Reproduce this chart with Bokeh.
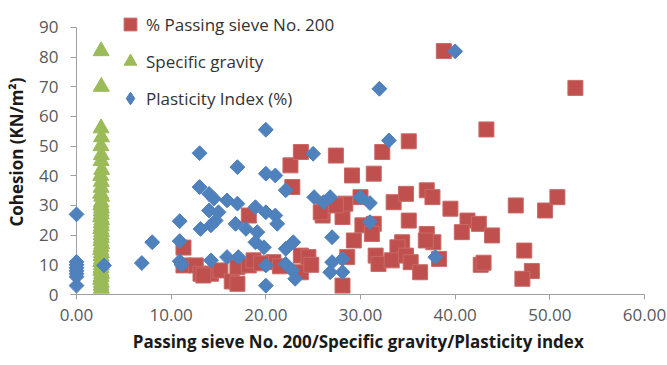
from bokeh.plotting import figure
from bokeh.models import (FixedTicker, NumeralTickFormatter, Legend, LegendItem,
                          Range1d)
from bokeh.embed import file_html
from bokeh.resources import INLINE
import numpy as np

# ---- data ----
passing_x = [11.3, 11.3, 12.6, 13.1, 14.2, 15.2, 16.4, 17.0, 17.0, 18.2, 18.7, 18.2,
             20.8, 21.5, 22.6, 23.7, 22.8, 23.7, 24.5, 23.7, 24.8, 26.0, 26.1, 27.4,
             29.1, 31.4, 32.3, 35.1, 38.8, 43.3, 52.7, 28.1, 28.4, 27.4, 30.0, 30.2,
             31.4, 29.3, 31.2, 33.5, 34.8, 37.0, 37.6, 39.5, 35.1, 41.3, 37.0, 37.7,
             34.4, 33.9, 31.6, 31.9, 33.3, 34.8, 35.3, 36.3, 38.3, 36.9, 28.6, 28.1,
             42.5, 40.7, 43.9, 42.7, 43.0, 46.4, 49.5, 50.8, 47.3, 48.1, 47.1, 25.8,
             13.4, 19.5]
passing_y = [15.8, 9.8, 9.8, 7.0, 7.0, 8.1, 4.4, 9.2, 3.6, 9.8, 11.5, 26.6,
             10.9, 9.5, 43.5, 48.0, 36.2, 13.1, 12.6, 7.5, 10.0, 26.6, 30.0, 46.8,
             40.1, 40.7, 48.0, 51.6, 82.0, 55.6, 69.6, 26.1, 30.6, 30.0, 32.8, 23.3,
             23.8, 18.2, 20.4, 31.1, 33.9, 35.1, 32.8, 28.9, 24.9, 24.9, 20.4, 17.6,
             17.6, 15.9, 13.1, 10.3, 11.5, 13.1, 10.9, 7.5, 12.0, 18.2, 12.6, 3.0,
             23.8, 21.0, 19.9, 10.0, 10.7, 30.0, 28.3, 32.8, 14.8, 7.9, 5.3, 27.7,
             6.4, 10.5]

sg_x = [2.60, 2.62, 2.60, 2.64, 2.58, 2.62, 2.60, 2.66, 2.56, 2.62, 2.60, 2.55,
        2.66, 2.60, 2.57, 2.64, 2.60, 2.62, 2.55, 2.66, 2.60, 2.63, 2.56, 2.64,
        2.60, 2.62, 2.57, 2.66, 2.60, 2.55, 2.63, 2.60, 2.65, 2.56, 2.62, 2.60,
        2.57, 2.65, 2.60, 2.55, 2.62, 2.60, 2.63]
sg_y = [82, 70, 56, 53, 50, 47, 45, 42, 40, 38, 36, 34, 33, 31, 30, 29, 28, 27,
        26, 25, 24, 23, 22, 21, 20, 19, 18, 17, 16, 15, 14, 13, 12, 11, 10, 9, 8,
        7, 6, 5, 4, 3, 2]

pi_x = [0.0, 0.0, 0.0, 0.0, 0.0, 0.0, 0.0, 0.0, 2.9, 6.9, 8.0, 10.9, 10.9, 10.9,
        11.1, 13.0, 13.0, 13.1, 14.0, 14.5, 15.9, 17.0, 14.0, 15.0, 14.7, 14.2,
        16.8, 18.9, 20.0, 21.0, 21.2, 17.9, 19.1, 18.9, 19.8, 22.9, 22.1, 14.2,
        15.9, 17.1, 20.0, 22.1, 22.8, 23.1, 20.0, 17.0, 20.0, 21.0, 22.1, 25.0,
        25.1, 26.1, 26.8, 20.0, 32.0, 33.0, 40.0, 30.0, 31.0, 31.0, 27.0, 27.0,
        28.1, 26.8, 28.1, 37.9]
pi_y = [27.0, 11.0, 10.0, 9.0, 8.0, 7.0, 6.0, 3.0, 9.8, 10.6, 17.6, 24.7, 18.0,
        11.2, 10.0, 47.6, 36.2, 22.1, 33.9, 32.3, 31.7, 30.6, 28.3, 27.7, 24.9,
        23.3, 23.8, 29.4, 27.7, 26.6, 23.8, 22.1, 21.0, 17.6, 15.9, 17.6, 15.4,
        11.5, 12.6, 12.6, 9.8, 10.3, 8.1, 5.3, 3.0, 42.9, 40.7, 40.1, 35.1, 47.4,
        32.8, 31.1, 32.8, 55.5, 69.3, 51.9, 81.9, 32.8, 30.8, 24.4, 19.3, 10.9,
        12.0, 7.5, 7.5, 12.6]

x_ticks = [0, 10, 20, 30, 40, 50, 60]
y_ticks = [0, 10, 20, 30, 40, 50, 60, 70, 80, 90]

series_names = ["% Passing sieve No. 200", "Specific gravity", "Plasticity Index (%)"]
x_title = "Passing sieve No. 200/Specific  gravity/Plasticity index"
y_title = "Cohesion (KN/m\u00b2)"

RED = "#C0504D"
GREEN = "#9BBB59"
BLUE = "#4F81BD"
FONT = "Open Sans"
AXIS_GREY = "#a0a0a0"

# y range runs a little past 90 so that the legend (drawn in the frame) is not clipped;
# the axis itself is bounded to 0..90 like the reference
p = figure(width=667, height=365, output_backend="svg", toolbar_location=None,
           x_range=Range1d(0, 60), y_range=Range1d(0, 96),
           min_border_left=76, min_border_right=23, min_border_top=9,
           min_border_bottom=71)
p.outline_line_color = None
p.xgrid.visible = False
p.ygrid.visible = False

r_red = p.scatter(x=passing_x, y=passing_y, marker="square", size=15,
                  fill_color=RED, line_color="#c86a67", line_width=1)
r_green = p.scatter(x=sg_x, y=sg_y, marker="triangle", size=16,
                    fill_color=GREEN, line_color=GREEN)
# legend key for the diamond symbol (the legend ignores marker angle); it lies
# entirely underneath the rotated-square diamonds drawn on top of it
r_blue_key = p.scatter(x=pi_x, y=pi_y, marker="diamond", size=13,
                       fill_color=BLUE, line_color=BLUE)
r_blue = p.scatter(x=pi_x, y=pi_y, marker="square", angle=np.pi / 4, size=10.5,
                   fill_color=BLUE, line_color=BLUE, level="overlay")

for ax, ticks, fmt in ((p.xaxis, x_ticks, "0.00"), (p.yaxis, y_ticks, "0")):
    ax.ticker = FixedTicker(ticks=ticks)
    ax.formatter = NumeralTickFormatter(format=fmt)
    ax.axis_line_color = AXIS_GREY
    ax.major_tick_line_color = AXIS_GREY
    ax.major_tick_in = 0
    ax.minor_tick_line_color = None
    ax.major_label_text_font = FONT
    ax.major_label_text_font_size = "17px"
    ax.major_label_text_color = "#595959"
    ax.axis_label_text_font = FONT
    ax.axis_label_text_font_size = "17px"
    ax.axis_label_text_font_style = "bold"
    ax.axis_label_text_color = "#1a1a1a"

p.yaxis.bounds = (0, 90)
p.xaxis.axis_label = x_title
p.yaxis.axis_label = y_title
p.xaxis.major_tick_out = 5
p.xaxis.major_label_standoff = 9
p.xaxis.axis_label_standoff = 6
p.yaxis.major_tick_out = 6
p.yaxis.major_label_standoff = 12
p.yaxis.axis_label_standoff = 8

legend = Legend(items=[LegendItem(label=series_names[0], renderers=[r_red]),
                       LegendItem(label=series_names[1], renderers=[r_green]),
                       LegendItem(label=series_names[2], renderers=[r_blue_key])],
                location=(38, 180), orientation="vertical",
                glyph_width=32, glyph_height=32, spacing=5, padding=0, margin=0,
                label_standoff=-4, border_line_color=None,
                background_fill_alpha=0)
legend.label_text_font = FONT
legend.label_text_font_size = "17px"
legend.label_text_color = "#333333"
p.add_layout(legend, "center")

open("out.html", "w").write(file_html(p, INLINE))
